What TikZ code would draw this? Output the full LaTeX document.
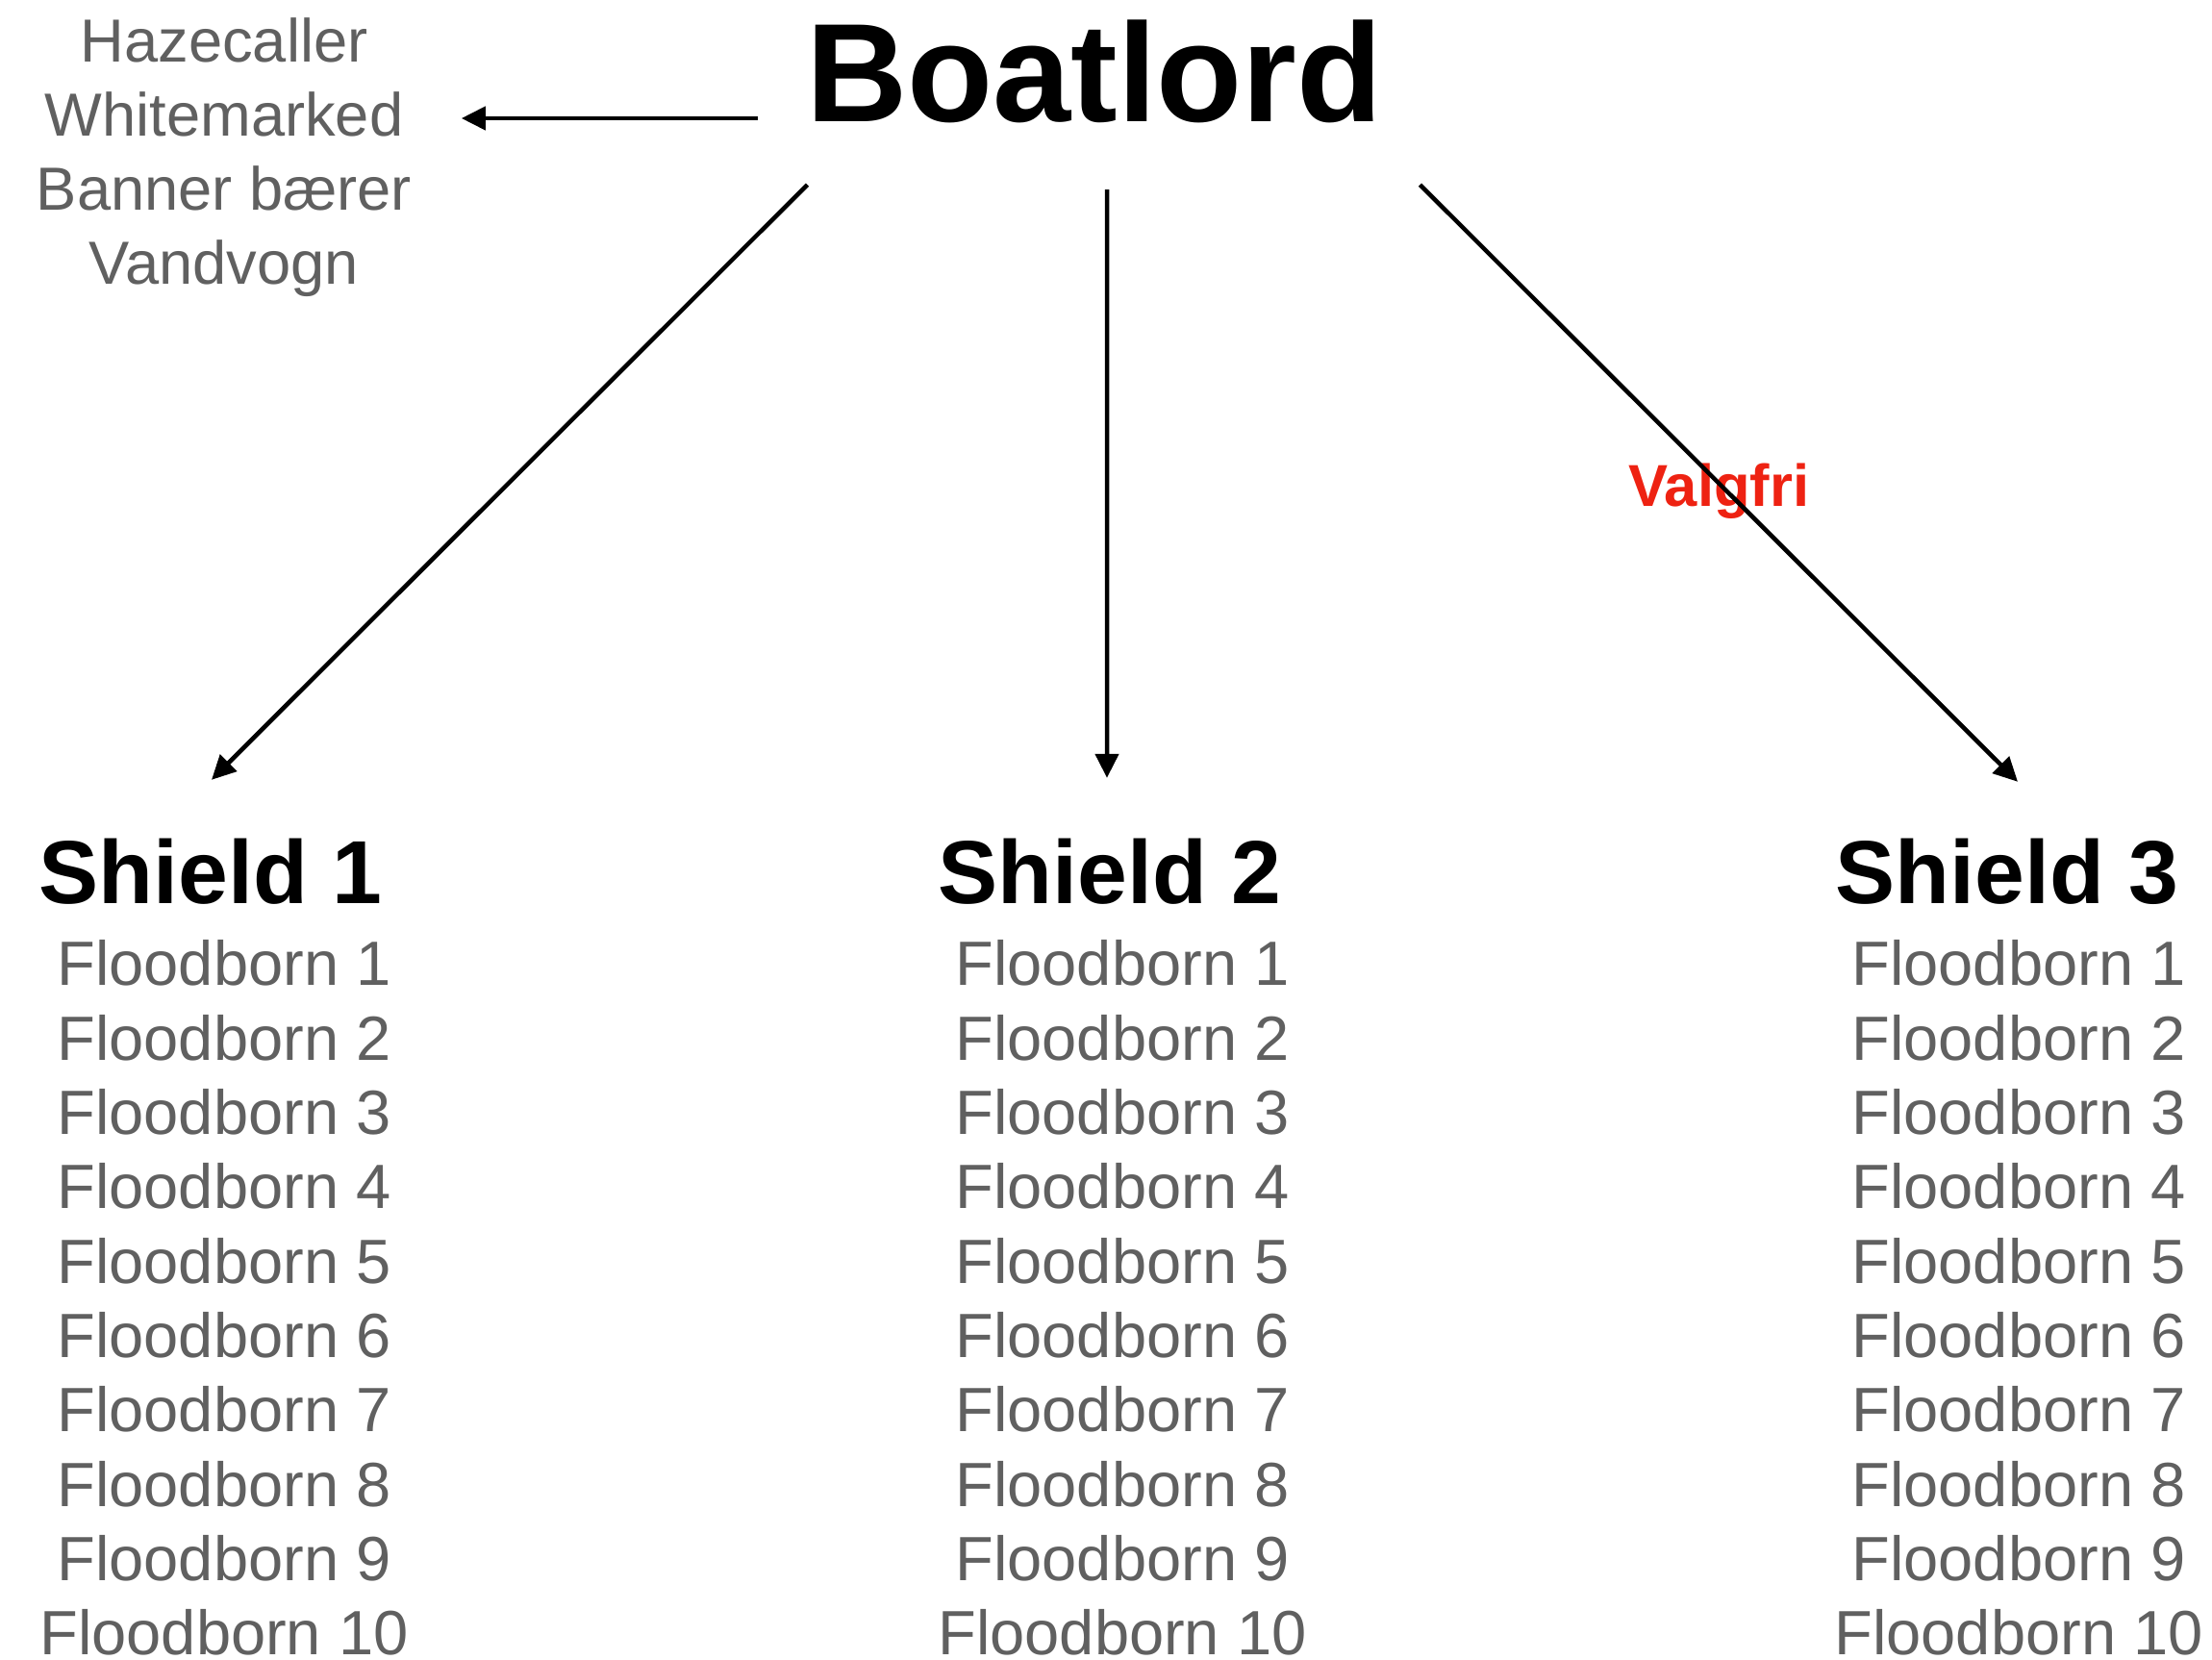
\documentclass[tikz,border=0pt]{standalone}
\usepackage{fontspec}
\setmainfont{Liberation Sans}
\usetikzlibrary{arrows.meta,positioning}
\definecolor{listgray}{HTML}{606060}
\definecolor{valgred}{HTML}{EE2212}

\begin{document}
\begin{tikzpicture}[
  boss/.style={inner sep=0pt, font=\fontsize{41.5}{50}\selectfont\bfseries},
  shield/.style={inner sep=0pt, font=\fontsize{26.5}{32}\selectfont\bfseries},
  members/.style={inner sep=0pt, align=center, text=listgray, font=\fontsize{18.5}{22}\selectfont},
  extras/.style={inner sep=0pt, align=center, text=listgray, font=\fontsize{18}{21.9}\selectfont},
  optional/.style={inner sep=0pt, text=valgred, font=\fontsize{17.5}{21}\selectfont\bfseries},
  pil/.style={-{Triangle[length=0.25cm,width=0.24cm]}, line width=0.045cm}
 ]
 \useasboundingbox (0,0) rectangle (23,17.25);
 \node[boss, anchor=base] (boat) at (11.38,15.98) {Boatlord};
 \node[extras, anchor=north] (extra) at (2.33,17.07) {Hazecaller\\Whitemarked\\Banner bærer\\Vandvogn};
 %
 \node[shield, anchor=base] (s1) at (2.19,7.86) {Shield 1};
 \node[shield, anchor=base] (s2) at (11.54,7.86) {Shield 2};
 \node[shield, anchor=base] (s3) at (20.87,7.86) {Shield 3};
 %
 \node[members, anchor=north] (m1) at (2.33,7.48) {Floodborn 1\\Floodborn 2\\Floodborn 3\\Floodborn 4\\Floodborn 5\\Floodborn 6\\Floodborn 7\\Floodborn 8\\Floodborn 9\\Floodborn 10};
 \node[members, anchor=north] (m2) at (11.67,7.48) {Floodborn 1\\Floodborn 2\\Floodborn 3\\Floodborn 4\\Floodborn 5\\Floodborn 6\\Floodborn 7\\Floodborn 8\\Floodborn 9\\Floodborn 10};
 \node[members, anchor=north] (m3) at (20.99,7.48) {Floodborn 1\\Floodborn 2\\Floodborn 3\\Floodborn 4\\Floodborn 5\\Floodborn 6\\Floodborn 7\\Floodborn 8\\Floodborn 9\\Floodborn 10};
 %
 \coordinate (pv) at ([shift={(-0.50,0.04)}]boat.base west);
 \draw[pil, shorten >=5.1mm] (pv) -- (pv -| extra.east);
 %
 \draw[pil] ([shift={(0.02,-0.63)}]boat.south west) -- ([shift={(0.01,0.60)}]s1.north);
 \draw[pil] ([shift={(0.13,-0.68)}]boat.south) -- ([shift={(-0.03,0.62)}]s2.north);
 %
 \path ([shift={(0.38,-0.63)}]boat.south east) -- node[optional, anchor=base, yshift=-2.4mm] (valg) {Valgfri} ([shift={(0.11,0.58)}]s3.north);
 \draw[pil] ([shift={(0.38,-0.63)}]boat.south east) -- ([shift={(0.11,0.58)}]s3.north);
\end{tikzpicture}
\end{document}
